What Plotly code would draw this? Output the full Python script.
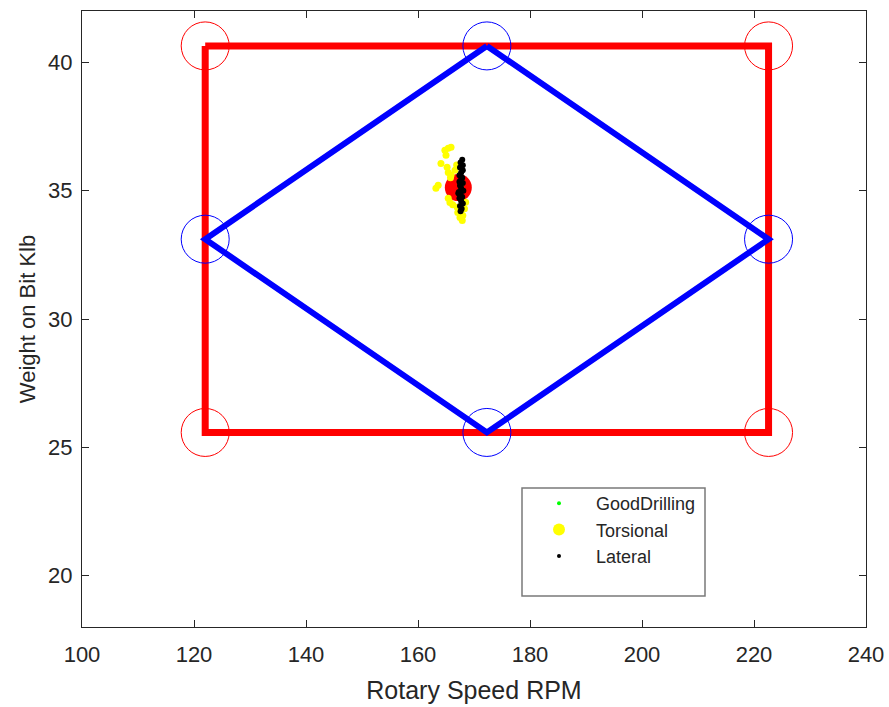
import plotly.graph_objects as go

# ---- data ----
rect_rpm = [122.0, 222.6, 222.6, 122.0, 122.0]
rect_wob = [40.64, 40.64, 25.58, 25.58, 40.64]

diamond_rpm = [172.3, 222.6, 172.3, 122.0, 172.3]
diamond_wob = [40.64, 33.11, 25.58, 33.11, 40.64]

red_circle_rpm = [122.0, 222.6, 222.6, 122.0]
red_circle_wob = [40.64, 40.64, 25.58, 25.58]

blue_circle_rpm = [172.3, 222.6, 172.3, 122.0]
blue_circle_wob = [40.64, 33.11, 25.58, 33.11]

center_rpm = [167.2]
center_wob = [35.12]

good_rpm = [167.6, 167.8]
good_wob = [35.0, 35.2]

torsional_rpm = [165.9, 165.4, 164.8, 165.0, 164.1, 165.2, 165.4, 165.9, 165.8, 163.6,
                 163.2, 165.4, 165.7, 166.2, 167.0, 167.1, 168.0, 167.9,
                 167.5, 168.3, 168.5, 166.6, 166.9]
torsional_wob = [36.69, 36.65, 36.57, 36.38, 36.06, 35.91, 35.71, 35.60, 35.50, 35.21,
                 35.09, 34.70, 34.54, 34.45, 34.35, 34.15, 34.03, 33.84,
                 33.95, 34.30, 34.55, 35.80, 36.00]

lateral_rpm = [167.9, 167.6, 168.0, 167.5, 168.0, 167.7, 167.4, 167.9, 167.6, 168.0,
               167.5, 167.7, 168.1, 167.3, 167.6, 167.9, 167.4, 167.7, 168.0, 167.5,
               167.8, 167.6, 167.4, 167.2]
lateral_wob = [36.20, 36.10, 35.99, 35.90, 35.80, 35.70, 35.60, 35.50, 35.40, 35.30,
               35.20, 35.10, 35.00, 34.95, 34.85, 34.75, 34.70, 34.60, 34.50, 34.40,
               34.30, 34.20, 35.35, 34.90]

x_ticks = [100, 120, 140, 160, 180, 200, 220, 240]
y_ticks = [20, 25, 30, 35, 40]

FONT = "Liberation Sans, Arial, sans-serif"
DARK = "#262626"

fig = go.Figure()

fig.add_trace(go.Scatter(x=rect_rpm, y=rect_wob, mode="lines",
                         line=dict(color="#ff0000", width=7), showlegend=False, hoverinfo="skip"))
fig.add_trace(go.Scatter(x=diamond_rpm, y=diamond_wob, mode="lines",
                         line=dict(color="#0000ff", width=6), showlegend=False, hoverinfo="skip"))
fig.add_trace(go.Scatter(x=red_circle_rpm, y=red_circle_wob, mode="markers",
                         marker=dict(symbol="circle-open", size=48, color="#ff0000", line=dict(width=1)),
                         showlegend=False))
fig.add_trace(go.Scatter(x=blue_circle_rpm, y=blue_circle_wob, mode="markers",
                         marker=dict(symbol="circle-open", size=48, color="#0000ff", line=dict(width=1)),
                         showlegend=False))
fig.add_trace(go.Scatter(x=center_rpm, y=center_wob, mode="markers",
                         marker=dict(size=27, color="#ff0000", line=dict(width=0)), showlegend=False))
fig.add_trace(go.Scatter(x=good_rpm, y=good_wob, mode="markers",
                         marker=dict(size=4, color="#00ff00", line=dict(width=0)), showlegend=False))
fig.add_trace(go.Scatter(x=torsional_rpm, y=torsional_wob, mode="markers",
                         marker=dict(size=7, color="#ffff00", line=dict(width=0)), showlegend=False))
fig.add_trace(go.Scatter(x=lateral_rpm, y=lateral_wob, mode="markers",
                         marker=dict(size=6, color="#000000", line=dict(width=0)), showlegend=False))

# legend entries
fig.add_trace(go.Scatter(x=[None], y=[None], mode="markers", name="GoodDrilling",
                         marker=dict(size=4, color="#00ff00")))
fig.add_trace(go.Scatter(x=[None], y=[None], mode="markers", name="Torsional",
                         marker=dict(size=12, color="#ffff00")))
fig.add_trace(go.Scatter(x=[None], y=[None], mode="markers", name="Lateral",
                         marker=dict(size=4, color="#000000")))

L, R, T, B = 82, 23, 11, 80
W, H = 889, 707
pw, ph = W - L - R, H - T - B

def px2paper_x(px):
    return (px - L) / pw

def px2paper_y(py):
    return (H - B - py) / ph

fig.add_shape(type="rect", xref="paper", yref="paper",
              x0=px2paper_x(522), x1=px2paper_x(705), y0=px2paper_y(596), y1=px2paper_y(488),
              line=dict(color="#7a7a7a", width=1.5), fillcolor="white", layer="below")

axis_common = dict(showline=True, linecolor=DARK, linewidth=1, mirror="ticks",
                   ticks="inside", ticklen=7, tickcolor=DARK, tickwidth=1,
                   showgrid=False, zeroline=False,
                   tickfont=dict(family=FONT, size=22, color=DARK))

fig.update_xaxes(range=[100, 240], tickvals=x_ticks, ticktext=[str(v) for v in x_ticks],
                 title=dict(text="Rotary Speed RPM", font=dict(family=FONT, size=25, color=DARK), standoff=15),
                 ticklabelstandoff=8, **axis_common)
fig.update_yaxes(range=[18, 42], tickvals=y_ticks, ticktext=[str(v) for v in y_ticks],
                 title=dict(text="Weight on Bit Klb", font=dict(family=FONT, size=22, color=DARK), standoff=6),
                 ticklabelstandoff=4, **axis_common)

fig.update_layout(
    width=W, height=H,
    margin=dict(l=L, r=R, t=T, b=B, autoexpand=False),
    paper_bgcolor="white", plot_bgcolor="white",
    font=dict(family=FONT, color=DARK),
    showlegend=True,
    legend=dict(x=px2paper_x(522), y=px2paper_y(485), xanchor="left", yanchor="top",
                bgcolor="rgba(0,0,0,0)", borderwidth=0,
                font=dict(family=FONT, size=18, color=DARK),
                itemwidth=64, tracegroupgap=0),
)

fig.write_html("out.html", config={"displayModeBar": False},
               post_script="document.body.style.margin='0px';")
